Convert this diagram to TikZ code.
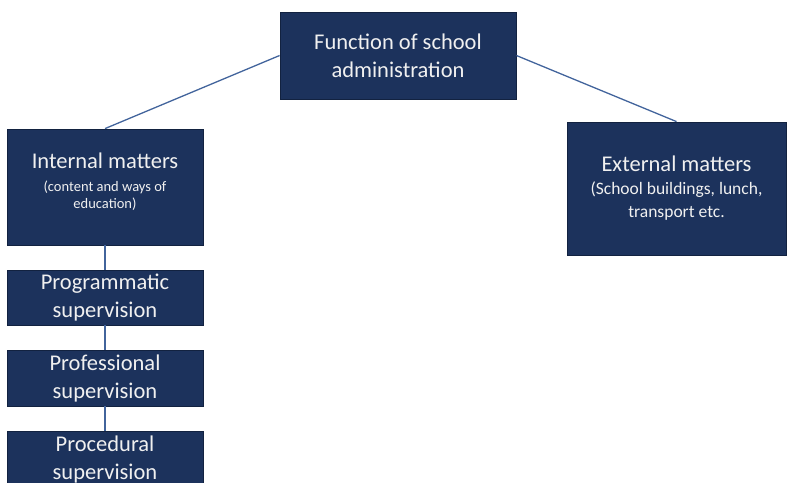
\documentclass[tikz,border=0pt]{standalone}
\usepackage{fontspec}
\setmainfont{Carlito}

\definecolor{boxblue}{RGB}{28,50,92}
\definecolor{rimblue}{RGB}{18,34,64}
\definecolor{linkblue}{RGB}{66,100,156}

\newcommand{\bigtxt}{\fontsize{22.5}{28}\selectfont}
\newcommand{\smalltxt}{\fontsize{14.5}{17}\selectfont}
\newcommand{\midtxt}{\fontsize{17.5}{23}\selectfont}

\begin{document}
\begin{tikzpicture}
[
    x=1pt, y=-1pt,
    box/.style={draw=rimblue, fill=boxblue, text=white!94!black, align=center,
                inner sep=0pt, line width=0.8pt, minimum width=196pt, font=\bigtxt},
    link/.style={draw=linkblue, line width=1.3pt},
]
\useasboundingbox (0,0) rectangle (791,482);
\clip (0,0) rectangle (791,482);

% top level
\node [box, minimum width=236pt, minimum height=87pt] (func) at (398,55.5)
{Function of school\\ administration};

% second level
\node [box, minimum height=116pt, font=\smalltxt] (internal) at (105,187)
{{\bigtxt Internal matters}\\[6pt] (content and ways of\\ education)\\[-5pt]\mbox{}};
\node [box, minimum width=219pt, minimum height=133pt, font=\midtxt] (external) at (676.5,188.5)
{{\bigtxt External matters}\\ (School buildings, lunch,\\ transport etc.};

% supervision chain
\node [box, minimum height=55pt] (program) at (105,297.5)
{Programmatic\\ supervision};
\node [box, minimum height=56pt] (profess) at (105,378)
{Professional\\ supervision};
\node [box, minimum height=56pt] (proced) at (105,459)
{Procedural\\ supervision};

% connectors
\draw [link] (func.west) -- (internal.north);
\draw [link] (func.east) -- (external.north);
\draw [link] (internal) -- (program);
\draw [link] (program) -- (profess);
\draw [link] (profess) -- (proced);
\end{tikzpicture}
\end{document}
